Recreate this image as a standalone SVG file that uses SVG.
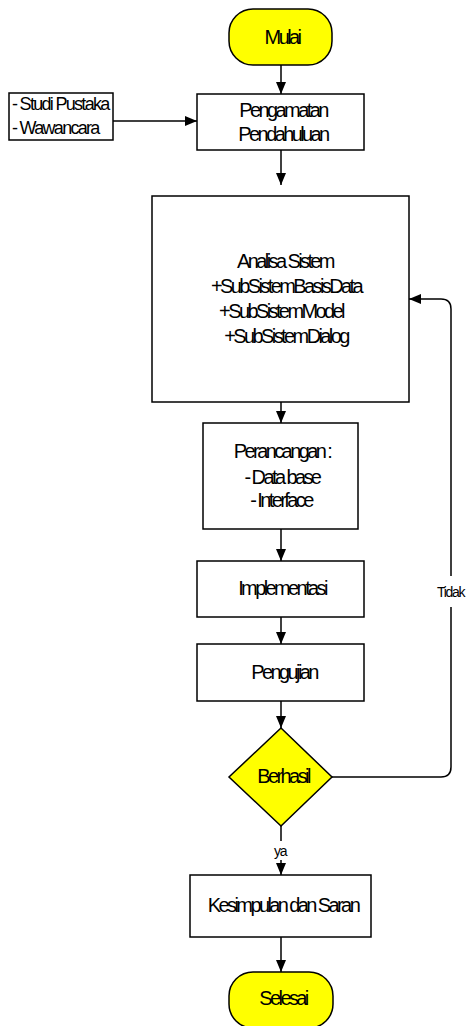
<svg xmlns="http://www.w3.org/2000/svg" width="466" height="1026" viewBox="0 0 466 1026">
  <defs>
    <marker id="arrow" viewBox="0 0 12 10" refX="12" refY="5" markerWidth="12" markerHeight="10" markerUnits="userSpaceOnUse" orient="auto">
      <path d="M0,0 L12,5 L0,10 z" fill="#000"/>
    </marker>
    <style>
      .box { fill: #fff; stroke: #000; stroke-width: 1.5; }
      .term { fill: #ffff00; stroke: #000; stroke-width: 1.5; }
      .lbl { font-family: "Liberation Sans", Arial, sans-serif; font-size: 20px; letter-spacing: -2.6px; fill: #000; text-anchor: middle; }
      .side { font-family: "Liberation Sans", Arial, sans-serif; font-size: 18px; letter-spacing: -1.7px; fill: #000; }
      .small { font-family: "Liberation Sans", Arial, sans-serif; font-size: 14px; letter-spacing: -1.3px; fill: #000; }
      .edge { fill: none; stroke: #000; stroke-width: 1.5; }
    </style>
  </defs>
  <rect width="466" height="1026" fill="#fff"/>

  <!-- connectors -->
  <g id="connectors">
    <line class="edge" x1="281" y1="65" x2="281" y2="94" marker-end="url(#arrow)"/>
    <line class="edge" x1="113" y1="121" x2="197" y2="121" marker-end="url(#arrow)"/>
    <line class="edge" x1="281" y1="150" x2="281" y2="185" marker-end="url(#arrow)"/>
    <line class="edge" x1="281" y1="402" x2="281" y2="423" marker-end="url(#arrow)"/>
    <line class="edge" x1="281" y1="529" x2="281" y2="561" marker-end="url(#arrow)"/>
    <line class="edge" x1="281" y1="617" x2="281" y2="644" marker-end="url(#arrow)"/>
    <line class="edge" x1="281" y1="701" x2="281" y2="728" marker-end="url(#arrow)"/>
    <!-- yes branch -->
    <line class="edge" x1="281" y1="826" x2="281" y2="841"/>
    <line class="edge" x1="281" y1="860" x2="281" y2="875" marker-end="url(#arrow)"/>
    <text class="small" x="274" y="856">ya</text>
    <line class="edge" x1="281" y1="937" x2="281" y2="972" marker-end="url(#arrow)"/>
    <!-- no branch loops back -->
    <path class="edge" d="M332,777 H441 Q451,777 451,767 V309 Q451,299 441,299 H409" marker-end="url(#arrow)"/>
    <rect x="436" y="576" width="30" height="31" fill="#fff"/>
    <text class="small" x="437" y="597">Tidak</text>
  </g>

  <g id="mulai">
    <rect class="term" x="229" y="9" width="103" height="56" rx="24" ry="24"/>
    <text class="lbl" x="282" y="44">Mulai</text>
  </g>

  <g id="sumber">
    <rect class="box" x="9" y="93" width="104" height="47"/>
    <text class="side" x="12" y="110">- Studi Pustaka</text>
    <text class="side" x="12" y="134">- Wawancara</text>
  </g>

  <g id="pengamatan">
    <rect class="box" x="197" y="94" width="167" height="56"/>
    <text class="lbl" x="283" y="117">Pengamatan</text>
    <text class="lbl" x="283" y="141">Pendahuluan</text>
  </g>

  <g id="analisa">
    <rect class="box" x="152" y="196" width="257" height="206"/>
    <text class="lbl" x="285" y="268">Analisa Sistem</text>
    <text class="lbl" x="286" y="293">+SubSistemBasisData</text>
    <text class="lbl" x="281" y="318">+SubSistemModel</text>
    <text class="lbl" x="286" y="343">+SubSistemDialog</text>
  </g>

  <g id="perancangan">
    <rect class="box" x="203" y="423" width="155" height="106"/>
    <text class="lbl" x="282" y="458">Perancangan :</text>
    <text class="lbl" x="282" y="484">- Data base</text>
    <text class="lbl" x="281" y="507">- Interface</text>
  </g>

  <g id="implementasi">
    <rect class="box" x="197" y="561" width="167" height="56"/>
    <text class="lbl" x="282" y="595">Implementasi</text>
  </g>

  <g id="pengujian">
    <rect class="box" x="197" y="644" width="167" height="57"/>
    <text class="lbl" x="284" y="679">Pengujian</text>
  </g>

  <g id="berhasil">
    <polygon class="term" points="281,728 332,777 281,826 229,777"/>
    <text class="lbl" x="283" y="783">Berhasil</text>
  </g>

  <g id="kesimpulan">
    <rect class="box" x="190" y="875" width="181" height="62"/>
    <text class="lbl" x="283" y="912">Kesimpulan dan Saran</text>
  </g>

  <g id="selesai">
    <rect class="term" x="229" y="972" width="104" height="56" rx="24" ry="24"/>
    <text class="lbl" x="283" y="1005">Selesai</text>
  </g>
</svg>
